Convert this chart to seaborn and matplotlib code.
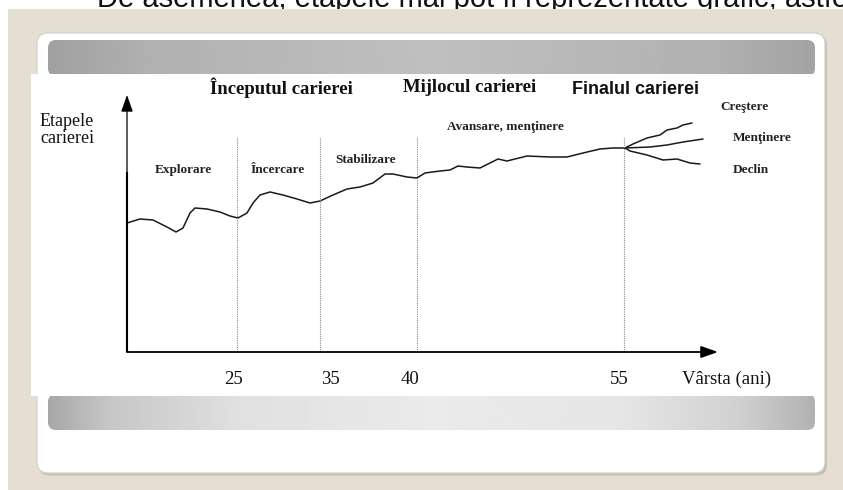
import numpy as np
import pandas as pd
import matplotlib
matplotlib.use("Agg")
import matplotlib.pyplot as plt
import seaborn as sns
from matplotlib.patches import FancyBboxPatch, Rectangle

# ---------------- data (schematic position units) ----------------
main_x = [0.0, 1.3, 2.6, 4.0, 4.9, 5.6, 6.3, 6.8, 8.0, 9.3, 10.3, 11.1, 12.0, 12.6, 13.3,
          14.3, 15.6, 17.0, 18.3, 19.3, 20.6, 22.0, 23.3, 24.6, 25.8, 26.6, 28.0, 29.0,
          29.8, 31.3, 32.3, 33.1, 34.0, 35.3, 36.3, 37.1, 38.0, 40.0, 42.3, 44.0, 45.6,
          47.3, 48.6, 49.8]
main_y = [12.9, 13.3, 13.2, 12.5, 12.0, 12.4, 13.9, 14.4, 14.3, 14.0, 13.6, 13.4, 13.9, 14.9,
          15.7, 16.0, 15.7, 15.3, 14.9, 15.1, 15.7, 16.3, 16.5, 16.9, 17.8, 17.8, 17.5,
          17.4, 17.9, 18.1, 18.2, 18.6, 18.5, 18.4, 18.9, 19.3, 19.1, 19.6, 19.5, 19.5,
          19.9, 20.3, 20.4, 20.4]

grow_x = [49.8, 50.6, 52.0, 53.3, 54.0, 55.0, 55.6, 56.5]
grow_y = [20.4, 20.8, 21.4, 21.7, 22.2, 22.4, 22.7, 22.9]
keep_x = [49.8, 52.3, 54.0, 55.6, 57.6]
keep_y = [20.4, 20.5, 20.7, 21.0, 21.3]
decl_x = [49.8, 50.3, 52.0, 53.6, 55.0, 56.3, 57.3]
decl_y = [20.4, 20.1, 19.7, 19.2, 19.3, 18.9, 18.8]

stage_bounds = [11.05, 19.3, 29.0, 49.7]
tick_pos = [10.7, 20.3, 28.3, 49.2]
tick_labels = ["25", "35", "40", "55"]
phase_labels = ["Începutul carierei", "Mijlocul carierei", "Finalul carierei"]
stage_labels = ["Explorare", "Încercare", "Stabilizare", "Avansare, menţinere"]
branch_labels = ["Creştere", "Menţinere", "Declin"]
x_title = "Vârsta (ani)"
y_title = "Etapele\ncarierei"
slide_text = "De asemenea, etapele mai pot fi reprezentate grafic, astfel"

# ---------------- figure ----------------
sns.set_theme(style="white")
plt.rcParams["font.family"] = ["Liberation Serif", "DejaVu Serif"]

W, H = 843, 490
fig = plt.figure(figsize=(W / 100, H / 100), dpi=100)
fig.patch.set_facecolor("white")

# background (slide) axes in pixel units
bg = fig.add_axes([0, 0, 1, 1])
bg.set_xlim(0, W)
bg.set_ylim(H, 0)
bg.axis("off")
bg.set_zorder(0)

bg.text(97, 7, slide_text, family=["Liberation Sans"], fontsize=21, color="#111111",
        va="baseline", ha="left", zorder=1)
bg.add_patch(Rectangle((7.5, 9), W, H, facecolor="#e4ded3", edgecolor="none", zorder=2))

# panel shadow + panel
bg.add_patch(FancyBboxPatch((38.5, 35), 788.5, 440.5, boxstyle="round,pad=0,rounding_size=11",
                            facecolor="#c4bfb5", edgecolor="none", zorder=3))
bg.add_patch(FancyBboxPatch((37, 33), 788, 440, boxstyle="round,pad=0,rounding_size=11",
                            facecolor="white", edgecolor="#d2d0cc", lw=0.8, zorder=4))


def gradient_band(x0, y0, w, h, stops_t, stops_v, z):
    clip = FancyBboxPatch((x0, y0), w, h, boxstyle="round,pad=0,rounding_size=8",
                          facecolor="none", edgecolor="none", zorder=z)
    bg.add_patch(clip)
    t = np.linspace(0, 1, 400)
    g = np.interp(t, stops_t, stops_v)[None, :]
    im = bg.imshow(g, cmap="gray", vmin=0, vmax=1, extent=(x0, x0 + w, y0 + h, y0),
                   aspect="auto", zorder=z, interpolation="bilinear")
    im.set_clip_path(clip)


gradient_band(48, 40, 767, 36, [0, 0.15, 0.5, 0.85, 1], [0.63, 0.70, 0.75, 0.70, 0.64], 5)
gradient_band(48, 394, 767, 36, [0, 0.08, 0.25, 0.5, 0.75, 0.9, 1],
              [0.66, 0.78, 0.88, 0.92, 0.90, 0.82, 0.70], 5)

# white picture of the chart
bg.add_patch(Rectangle((31, 74), 784, 322, facecolor="white", edgecolor="none", zorder=6))

# ---------------- chart axes ----------------
ax = fig.add_axes([127 / W, 1 - 352 / H, 591 / W, 254 / H])
ax.set_zorder(5)
ax.patch.set_alpha(0)
ax.set_xlim(0, 59.1)
ax.set_ylim(0, 25.4)
for s in ax.spines.values():
    s.set_visible(False)

line_kw = dict(color="#1a1a1a", linewidth=1.1, sort=False, estimator=None, legend=False, ax=ax)
sns.lineplot(x=main_x, y=main_y, **line_kw)
sns.lineplot(x=grow_x, y=grow_y, **line_kw)
sns.lineplot(x=keep_x, y=keep_y, **line_kw)
sns.lineplot(x=decl_x, y=decl_y, **line_kw)

for b in stage_bounds:
    ax.plot([b, b], [0, 21.5], color="#8a8a8a", lw=0.8, linestyle=(0, (1, 1)))

# axes with arrows
ax.annotate("", xy=(59.1, 0), xytext=(0, 0), annotation_clip=False,
            arrowprops=dict(arrowstyle="-|>,head_length=0.85,head_width=0.3", color="black",
                            lw=1.3, shrinkA=0, shrinkB=0))
ax.annotate("", xy=(0, 25.7), xytext=(0, 0), annotation_clip=False,
            arrowprops=dict(arrowstyle="-|>,head_length=0.85,head_width=0.3", color="black",
                            lw=0.9, shrinkA=0, shrinkB=0))
ax.plot([0, 0], [0, 18.0], color="black", lw=1.5, solid_capstyle="butt", clip_on=False)

ax.set_xticks(tick_pos, tick_labels)
ax.set_yticks([])
ax.tick_params(axis="x", length=0, pad=14, labelsize=13.5, labelcolor="#111111")
ax.set_xlabel("")
ax.set_ylabel("")

ax.text(60.0, -2.7, x_title, fontsize=13.5, ha="center", va="center", color="#111111")
ax.text(-6.0, 22.2, y_title, fontsize=13, ha="center", va="center", linespacing=0.95,
        color="#111111")

phase_pos = [(15.4, 26.4), (34.3, 26.4), (50.9, 26.2)]
for (px, py), lab, fam in zip(phase_pos, phase_labels,
                              [["Liberation Serif"], ["Liberation Serif"], ["Liberation Sans"]]):
    ax.text(px, py, lab, family=fam, fontsize=13.5 if fam[0] != "Liberation Sans" else 13,
            fontweight="bold", ha="center", va="center", color="#111111")

stage_pos = [(5.6, 18.2), (15.1, 18.2), (23.9, 19.2), (37.8, 22.5)]
for (px, py), lab in zip(stage_pos, stage_labels):
    ax.text(px, py, lab, fontsize=9.5, fontweight="bold", ha="center", va="center",
            color="#222222")

branch_pos = [(59.3, 24.5), (60.6, 21.4), (60.6, 18.2)]
for (px, py), lab in zip(branch_pos, branch_labels):
    ax.text(px, py, lab, fontsize=9.5, fontweight="bold", ha="left", va="center",
            color="#222222")

fig.savefig("out.png", dpi=100, facecolor=fig.get_facecolor())
